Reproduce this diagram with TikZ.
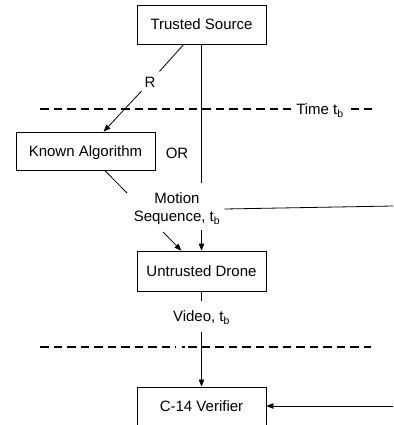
\documentclass[tikz,border=0pt]{standalone}
\usepackage{fontspec}
\setmainfont{Liberation Sans}
\usetikzlibrary{arrows.meta}
\begin{document}
\begin{tikzpicture}[x=1pt,y=-1pt,
  txt/.style={font=\fontsize{15}{18}\selectfont},
  lbl/.style={txt, inner sep=0pt, text height=10.7pt, text depth=0pt},
  box/.style={txt, draw, line width=0.8pt, minimum width=129pt, minimum height=39pt,
    inner sep=0pt, text height=10.7pt, text depth=0pt},
  conn/.style={line width=0.8pt},
  arr/.style={conn, -{Triangle[length=7pt,width=5.5pt]}},
  dashline/.style={line width=1.6pt, dash pattern=on 8.5pt off 5pt},
]
\clip (0,0) rectangle (393,425);
\fill[white] (0,0) rectangle (393,425);

% boxes
\node[box] (ts) at (201.5,24.5) {Trusted Source};
\node[box, minimum width=139pt, minimum height=38pt] (ka) at (85.5,151) {Known Algorithm};
\node[box, minimum height=40pt] (ud) at (201.5,271) {Untrusted Drone};
\node[box, minimum height=50pt, text depth=11pt, anchor=north] (cv) at (201.5,386.5) {C-14 Verifier};

% labels
\node[lbl, inner sep=5pt] (R) at (150,82) {R};
\node[lbl] (or) at (177,153) {OR};
\node[txt, align=center, inner sep=0pt] (ms) at (177,209) {Motion\\Sequence, t\textsubscript{b}};
\node[lbl, inner xsep=0pt, inner ysep=9.6pt] (vid) at (201.5,316.5) {Video, t\textsubscript{b}};

% dashed time lines
\coordinate (d1a) at (40,109);
\coordinate (d1b) at (372,109);
\draw[dashline] (d1a) -- (d1b);
\node[lbl, fill=white, inner xsep=5pt, inner ysep=3pt] (time) at (320,109.3) {Time t\textsubscript{b}};

\coordinate (d2a) at (40,347);
\coordinate (d2b) at (176,347);
\coordinate (d2c) at (182,347);
\coordinate (d2d) at (185,347);
\coordinate (d2e) at (188,347);
\coordinate (d2f) at (371,347);
\draw[dashline] (d2a) -- (d2b);
\draw[line width=1.6pt] (d2c) -- (d2d);
\draw[dashline] (d2e) -- (d2f);

% connectors
\draw[conn] (ts) -- (R);
\draw[arr, shorten <=-2pt] (R) -- (ka);

\coordinate (m1) at (201.5,183);
\coordinate (m2) at (201.5,230);
\draw[conn] (ts.south -| m1) -- (m1);
\draw[arr] (m2) -- (ud.north -| m2);

\coordinate (k1) at (127,193);
\coordinate (k2) at (163,232);
\draw[conn] (ka) -- (k1);
\draw[arr] (k2) -- (ud);

\coordinate (h2) at (393,206);
\draw[conn] ([xshift=4pt]ms.east) -- (h2);

\draw[conn] (ud) -- (vid);
\draw[arr] (vid) -- (cv);

\coordinate (c1) at (393,406);
\draw[arr] (c1) -- (cv.east |- c1);
\end{tikzpicture}
\end{document}
